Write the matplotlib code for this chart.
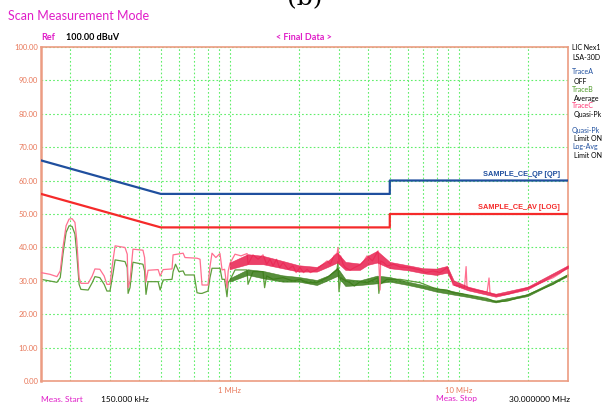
import matplotlib
matplotlib.use("Agg")
import matplotlib.pyplot as plt
from matplotlib.ticker import FixedLocator, NullFormatter

# limit lines (MHz, dBuV)
QP_MHZ = [0.15, 0.5, 5.0, 5.0, 30.0]
QP_DBUV = [66, 56, 56, 60, 60]
AV_MHZ = [0.15, 0.5, 5.0, 5.0, 30.0]
AV_DBUV = [56, 46, 46, 50, 50]

# TraceC (quasi-peak) readings
PK_MHZ = [0.150, 0.164, 0.176, 0.182, 0.187, 0.193, 0.199, 0.205, 0.211, 0.215,
          0.220, 0.224, 0.241, 0.251, 0.258, 0.271, 0.283, 0.291, 0.300, 0.309,
          0.316, 0.349, 0.357, 0.360, 0.367, 0.378, 0.418, 0.425, 0.431, 0.440,
          0.487, 0.497, 0.512, 0.560, 0.566, 0.626, 0.638, 0.720, 0.742, 0.757,
          0.804, 0.820, 0.837, 0.870, 0.907, 0.926, 0.950, 0.973, 0.985, 1.003,
          1.055, 1.120, 1.191, 1.202, 1.264, 1.330, 1.398, 1.450, 1.500, 1.546,
          1.600, 1.650, 1.710, 1.800, 1.890, 1.950, 2.028, 2.100, 2.177, 2.250,
          2.406, 2.500, 2.661, 2.750, 2.850, 2.943, 2.973, 3.000, 3.050, 3.126,
          3.200, 3.354, 3.500, 3.708, 3.850, 3.978, 4.200, 4.443, 4.480, 4.533,
          4.560, 4.700, 4.864, 5.200, 5.544, 6.100, 6.779, 7.200, 7.725, 8.289,
          8.892, 9.200, 9.447, 10.13, 10.60, 10.77, 10.87, 12.00, 13.30, 13.56,
          13.70, 14.41, 16.26, 19.89, 21.12, 25.83, 27.70, 30.00]
PK_DBUV = [32.5, 32.0, 31.3, 33.0, 40.0, 46.5, 48.5, 48.6, 47.5, 42.0,
           31.0, 29.3, 29.3, 31.5, 33.6, 33.5, 31.5, 29.0, 29.0, 36.0,
           40.5, 40.0, 38.0, 28.0, 30.0, 39.5, 39.2, 37.0, 29.7, 33.2,
           33.4, 31.5, 33.4, 33.6, 37.8, 38.3, 37.0, 36.8, 36.5, 28.8,
           28.8, 34.3, 38.3, 37.0, 38.2, 33.3, 33.5, 27.9, 33.0, 35.3,
           38.0, 37.5, 38.2, 35.0, 37.8, 36.5, 37.8, 35.0, 36.5, 34.5,
           36.5, 34.0, 35.5, 33.5, 34.5, 32.5, 34.0, 32.5, 33.5, 32.5,
           33.5, 34.5, 36.0, 35.0, 37.5, 38.3, 40.0, 35.5, 37.5, 35.0,
           34.0, 33.2, 34.0, 34.8, 36.0, 37.5, 36.0, 39.0, 35.0, 27.3,
           36.0, 35.5, 34.5, 35.0, 34.2, 34.0, 33.3, 32.5, 33.0, 32.5,
           34.0, 31.5, 28.8, 28.5, 28.0, 34.3, 28.0, 27.2, 26.7, 30.9,
           26.3, 25.8, 26.0, 27.9, 28.5, 31.0, 32.3, 34.3]

# TraceB (average) readings
AVG_MHZ = [0.150, 0.164, 0.176, 0.182, 0.187, 0.193, 0.199, 0.205, 0.211, 0.215,
           0.220, 0.224, 0.241, 0.251, 0.258, 0.271, 0.283, 0.291, 0.300, 0.309,
           0.316, 0.349, 0.357, 0.360, 0.367, 0.378, 0.418, 0.425, 0.431, 0.440,
           0.487, 0.497, 0.512, 0.560, 0.566, 0.580, 0.600, 0.626, 0.638, 0.700,
           0.720, 0.742, 0.757, 0.804, 0.820, 0.837, 0.907, 0.926, 0.950, 0.973,
           0.985, 1.003, 1.055, 1.190, 1.202, 1.264, 1.398, 1.420, 1.450, 1.546,
           1.710, 1.890, 2.030, 2.180, 2.400, 2.660, 2.940, 2.970, 3.000, 3.050,
           3.126, 3.350, 3.500, 3.710, 3.980, 4.440, 4.480, 4.530, 4.860, 5.540,
           6.780, 7.720, 8.290, 8.890, 9.450, 10.13, 13.30, 14.41, 16.26, 19.89,
           21.12, 25.83, 27.70, 30.00]
AVG_DBUV = [30.5, 30.0, 29.6, 31.0, 38.0, 44.5, 46.5, 46.3, 44.0, 38.0,
            29.0, 27.5, 27.3, 29.5, 31.3, 31.0, 29.0, 27.0, 27.0, 32.0,
            36.3, 35.8, 34.0, 26.3, 28.0, 35.6, 35.0, 33.0, 26.0, 29.8,
            29.8, 27.3, 30.3, 30.5, 32.8, 35.0, 32.8, 33.0, 31.8, 31.8,
            26.5, 26.3, 26.3, 27.0, 31.0, 33.8, 33.8, 30.5, 30.5, 25.3,
            29.5, 30.3, 33.3, 33.3, 29.0, 32.8, 32.8, 28.0, 31.5, 30.5,
            31.0, 30.0, 30.5, 29.5, 29.5, 31.0, 33.3, 35.8, 26.8, 31.0,
            30.5, 29.5, 28.5, 29.8, 29.5, 31.0, 26.3, 29.0, 30.5, 30.5,
            29.5, 28.0, 27.5, 27.3, 26.5, 26.3, 24.8, 23.8, 24.0, 25.8,
            26.6, 29.0, 30.3, 31.8]

# spread of the dense emission above 1 MHz (low / high envelope)
PK_BAND_MHZ = [1.0, 1.2, 1.4, 1.7, 2.0, 2.4, 2.7, 2.95, 3.2, 3.7, 4.0, 4.4,
               5.0, 6.0, 7.0, 8.0, 8.9, 9.5, 11.0, 14.5, 20.0, 30.0]
PK_BAND_LO = [33.5, 35.0, 35.0, 33.8, 32.8, 32.8, 34.3, 35.5, 33.3, 33.3, 34.8, 35.5,
              33.8, 33.2, 32.3, 31.8, 32.5, 28.8, 27.2, 25.3, 27.5, 33.9]
PK_BAND_HI = [35.5, 38.0, 37.5, 36.0, 34.7, 34.2, 36.2, 38.5, 35.7, 35.2, 37.5, 39.0,
              35.7, 34.7, 33.8, 33.7, 34.5, 30.2, 28.3, 26.2, 28.3, 34.7]
AVG_BAND_MHZ = [1.0, 1.2, 1.4, 1.7, 2.0, 2.4, 2.7, 2.95, 3.2, 3.7, 4.4, 5.0,
                6.0, 7.0, 8.0, 9.0, 11.0, 14.5, 20.0, 30.0]
AVG_BAND_LO = [29.8, 31.8, 30.8, 29.8, 29.8, 28.8, 30.3, 31.5, 28.5, 28.8, 29.3, 29.8,
               28.8, 27.8, 26.8, 26.2, 25.2, 23.6, 25.5, 31.5]
AVG_BAND_HI = [30.8, 33.5, 33.0, 31.7, 31.2, 30.3, 31.7, 34.0, 30.6, 30.2, 31.6, 31.2,
               29.8, 28.8, 27.8, 27.3, 25.9, 24.2, 26.1, 32.1]

Y_TICKS = [0, 10, 20, 30, 40, 50, 60, 70, 80, 90, 100]
X_MAJOR = [1.0, 10.0]
X_MAJOR_LABELS = ["1 MHz", "10 MHz"]
X_MINOR = [0.2, 0.3, 0.4, 0.5, 0.6, 0.7, 0.8, 0.9,
           2, 3, 4, 5, 6, 7, 8, 9, 20]

FRAME = "#ec9c82"
SALMON = "#e8785a"
MAGENTA = "#e01ec8"
BLUE = "#1f4f9e"
RED = "#f52a2a"
PINK = "#ff7090"
PINK_DENSE = "#e8204f"
GREEN = "#5e9e3c"
GREEN_DENSE = "#3a7a18"
GRID = "#5fee6a"

plt.rcParams["font.family"] = ["Lato", "DejaVu Sans"]

fig = plt.figure(figsize=(6.04, 4.07), dpi=100)
ax = fig.add_axes([0.0679, 0.0627, 0.8725, 0.823])

ax.set_xscale("log")
ax.set_xlim(0.15, 30.0)
ax.set_ylim(0, 100)

ax.plot(QP_MHZ, QP_DBUV, color=BLUE, lw=1.6, zorder=5)
ax.plot(AV_MHZ, AV_DBUV, color=RED, lw=1.6, zorder=5)

ax.plot(AVG_MHZ, AVG_DBUV, color=GREEN, lw=0.9, zorder=2)
ax.fill_between(AVG_BAND_MHZ, AVG_BAND_LO, AVG_BAND_HI, color=GREEN_DENSE,
                lw=0.4, ec=GREEN_DENSE, alpha=0.85, zorder=2.5)
ax.plot(PK_MHZ, PK_DBUV, color=PINK, lw=0.9, zorder=3)
ax.fill_between(PK_BAND_MHZ, PK_BAND_LO, PK_BAND_HI, color=PINK_DENSE,
                lw=0.4, ec=PINK_DENSE, alpha=0.85, zorder=3.5)

label_font = ["Liberation Sans", "DejaVu Sans"]
ax.text(0.985, 60.8, "SAMPLE_CE_QP [QP]", transform=ax.get_yaxis_transform(),
        ha="right", va="bottom", color=BLUE, fontsize=5.3, fontweight="bold",
        family=label_font)
ax.text(0.985, 50.8, "SAMPLE_CE_AV [LOG]", transform=ax.get_yaxis_transform(),
        ha="right", va="bottom", color=RED, fontsize=5.3, fontweight="bold",
        family=label_font)

# axes styling
ax.set_yticks(Y_TICKS)
ax.set_yticklabels([f"{v:.2f}" for v in Y_TICKS])
ax.xaxis.set_major_locator(FixedLocator(X_MAJOR))
ax.set_xticklabels(X_MAJOR_LABELS)
ax.xaxis.set_minor_locator(FixedLocator(X_MINOR))
ax.xaxis.set_minor_formatter(NullFormatter())
ax.tick_params(axis="both", which="both", length=0, colors=SALMON, labelsize=5.5)
ax.tick_params(axis="x", pad=4)
ax.tick_params(axis="y", pad=2)
ax.grid(True, which="both", axis="x", color=GRID, ls=(0, (1.5, 2.0)), lw=0.8)
ax.grid(True, which="major", axis="y", color=GRID, ls=(0, (1.5, 2.0)), lw=0.8)
for side, sp in ax.spines.items():
    sp.set_color(FRAME)
    sp.set_linewidth(1.8 if side == "left" else 1.2)

W, H = 604.0, 407.0


def ftext(x, y, s, **kw):
    fig.text(x / W, 1 - y / H, s, **kw)


ftext(305, 5, "(b)", ha="center", va="baseline", fontsize=18,
      family="DejaVu Serif", color="black")
ftext(8, 16, "Scan Measurement Mode", ha="left", va="center", fontsize=9,
      color=MAGENTA)
ftext(41, 38, "Ref", ha="left", va="center", fontsize=6.5, color=MAGENTA,
      fontweight="bold")
ftext(66, 38, "100.00 dBuV", ha="left", va="center", fontsize=6.5, color="black",
      fontweight="bold")
ftext(304, 38, "< Final Data >", ha="center", va="center", fontsize=6.5,
      color=MAGENTA, fontweight="bold")

side_lines = [
    (572, 47, "LIC Nex1", "black"),
    (572, 57, "LSA-30D", "black"),
    (572, 72, "TraceA", BLUE),
    (574, 81, "OFF", "black"),
    (572, 89, "TraceB", "#4f9a2a"),
    (574, 98, "Average", "black"),
    (572, 105, "TraceC", "#ff3070"),
    (574, 114, "Quasi-Pk", "black"),
    (572, 130, "Quasi-Pk", BLUE),
    (574, 138.5, "Limit ON", "black"),
    (572, 147, "Log-Avg", BLUE),
    (574, 155.5, "Limit ON", "black"),
]
for x, y, s, c in side_lines:
    ftext(x, y, s, ha="left", va="center", fontsize=5, color=c)

ftext(41, 399, "Meas. Start", ha="left", va="center", fontsize=6, color=MAGENTA)
ftext(101, 399, "150.000 kHz", ha="left", va="center", fontsize=6, color="black")
ftext(436, 399, "Meas. Stop", ha="left", va="center", fontsize=6, color=MAGENTA)
ftext(570, 399, "30.000000 MHz", ha="right", va="center", fontsize=6, color="black")

fig.savefig("out.png", dpi=100)
